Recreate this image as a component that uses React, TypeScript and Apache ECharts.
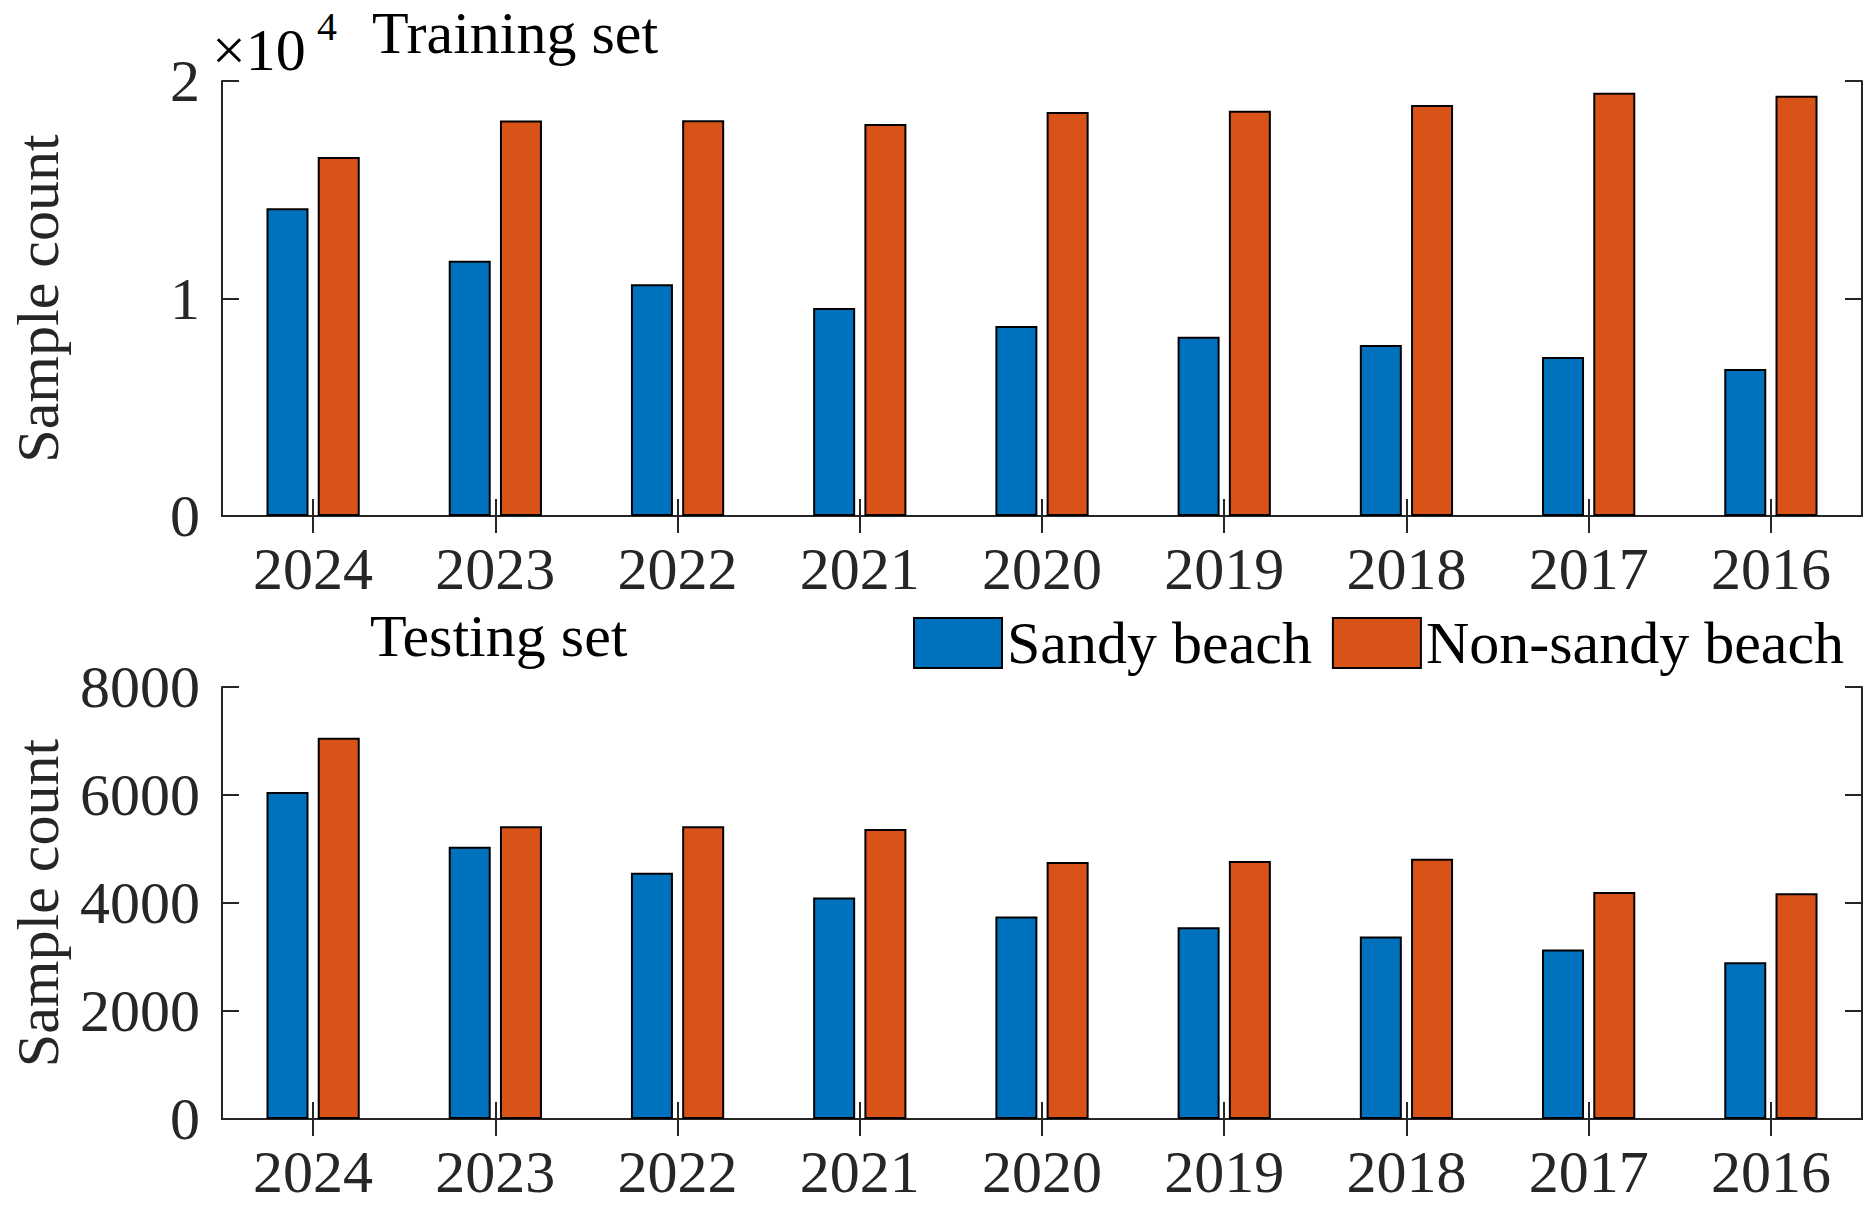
import React, { useEffect, useRef } from "react";
import * as echarts from "echarts";

const years = ["2024", "2023", "2022", "2021", "2020", "2019", "2018", "2017", "2016"];
const trainSandy = [14150, 11740, 10660, 9560, 8740, 8240, 7860, 7310, 6760];
const trainNonSandy = [16510, 18180, 18190, 18020, 18570, 18630, 18900, 19460, 19320];
const testSandy = [6055, 5040, 4560, 4100, 3750, 3550, 3380, 3140, 2905];
const testNonSandy = [7060, 5420, 5420, 5370, 4760, 4780, 4820, 4205, 4180];
const seriesNames = ["Sandy beach", "Non-sandy beach"];
const trainTicks = { min: 0, max: 20000, interval: 10000 };
const testTicks = { min: 0, max: 8000, interval: 2000 };

const FONT = "'Liberation Serif', 'Times New Roman', serif";
const FS = 60;
const AX = "#262626";
const BLUE = "#0072BD";
const ORANGE = "#D95319";

export default function App() {
  const ref = useRef<HTMLDivElement>(null);
  useEffect(() => {
    if (!ref.current) return;
    const chart = echarts.init(ref.current, undefined, { renderer: "svg" });
    const axisLine = { show: true, lineStyle: { color: AX, width: 2 } };
    const tick = { show: true, inside: true, length: 17, alignWithLabel: true, lineStyle: { color: AX, width: 2 } };
    const labelStyle = { fontFamily: FONT, fontSize: FS, color: AX };
    const xAxes: any[] = [];
    const yAxes: any[] = [];
    [0, 1].forEach((g) => {
      xAxes.push({
        type: "category", gridIndex: g, data: years, position: "bottom",
        axisLine, axisTick: tick, axisLabel: { ...labelStyle, margin: 23 }, splitLine: { show: false },
      });
      xAxes.push({
        type: "category", gridIndex: g, data: years, position: "top",
        axisLine, axisTick: tick, axisLabel: { show: false }, splitLine: { show: false },
      });
      const t = g === 0 ? trainTicks : testTicks;
      yAxes.push({
        type: "value", gridIndex: g, position: "left", ...t,
        name: "Sample count", nameLocation: "middle", nameRotate: 90, nameGap: 154,
        nameTextStyle: { fontFamily: FONT, fontSize: FS, color: AX },
        axisLine, axisTick: { ...tick, alignWithLabel: false },
        axisLabel: { ...labelStyle, margin: 22, formatter: (v: number) => (g === 0 ? String(v / 10000) : String(v)) },
        splitLine: { show: false },
      });
      yAxes.push({
        type: "value", gridIndex: g, position: "right", ...t,
        axisLine, axisTick: { ...tick, alignWithLabel: false }, axisLabel: { show: false }, splitLine: { show: false },
      });
    });
    const barBase = { type: "bar", barWidth: 42, barGap: "22%", itemStyle: { borderColor: "#000", borderWidth: 2 } };
    chart.setOption({
      animation: false,
      backgroundColor: "#fff",
      grid: [
        { left: 209.5, right: 14, top: 81, height: 435 },
        { left: 209.5, right: 14, top: 687, height: 432 },
      ],
      xAxis: xAxes,
      yAxis: yAxes,
      legend: {
        data: seriesNames, left: 908, top: 608, itemWidth: 88, itemHeight: 50, itemGap: 20, icon: "rect",
        textStyle: { fontFamily: FONT, fontSize: FS, color: "#000" },
        itemStyle: { borderColor: "#000", borderWidth: 2 },
      },
      series: [
        { ...barBase, name: seriesNames[0], xAxisIndex: 0, yAxisIndex: 0, data: trainSandy, itemStyle: { ...barBase.itemStyle, color: BLUE } },
        { ...barBase, name: seriesNames[1], xAxisIndex: 0, yAxisIndex: 0, data: trainNonSandy, itemStyle: { ...barBase.itemStyle, color: ORANGE } },
        { ...barBase, name: seriesNames[0], xAxisIndex: 2, yAxisIndex: 2, data: testSandy, itemStyle: { ...barBase.itemStyle, color: BLUE } },
        { ...barBase, name: seriesNames[1], xAxisIndex: 2, yAxisIndex: 2, data: testNonSandy, itemStyle: { ...barBase.itemStyle, color: ORANGE } },
      ],
      graphic: [
        { type: "text", x: 212, y: 50, style: { text: "×10", fontFamily: FONT, fontSize: FS, fill: "#000", verticalAlign: "middle" } },
        { type: "text", x: 317, y: 26, style: { text: "4", fontFamily: FONT, fontSize: 40, fill: "#000", verticalAlign: "middle" } },
        { type: "text", x: 372, y: 33, style: { text: "Training set", fontFamily: FONT, fontSize: FS, fill: "#000", verticalAlign: "middle" } },
        { type: "text", x: 370, y: 636, style: { text: "Testing set", fontFamily: FONT, fontSize: FS, fill: "#000", verticalAlign: "middle" } },
      ],
    });
    return () => chart.dispose();
  }, []);
  return <div ref={ref} style={{ position: "fixed", left: 0, top: 0, width: 1876, height: 1209 }} />;
}
